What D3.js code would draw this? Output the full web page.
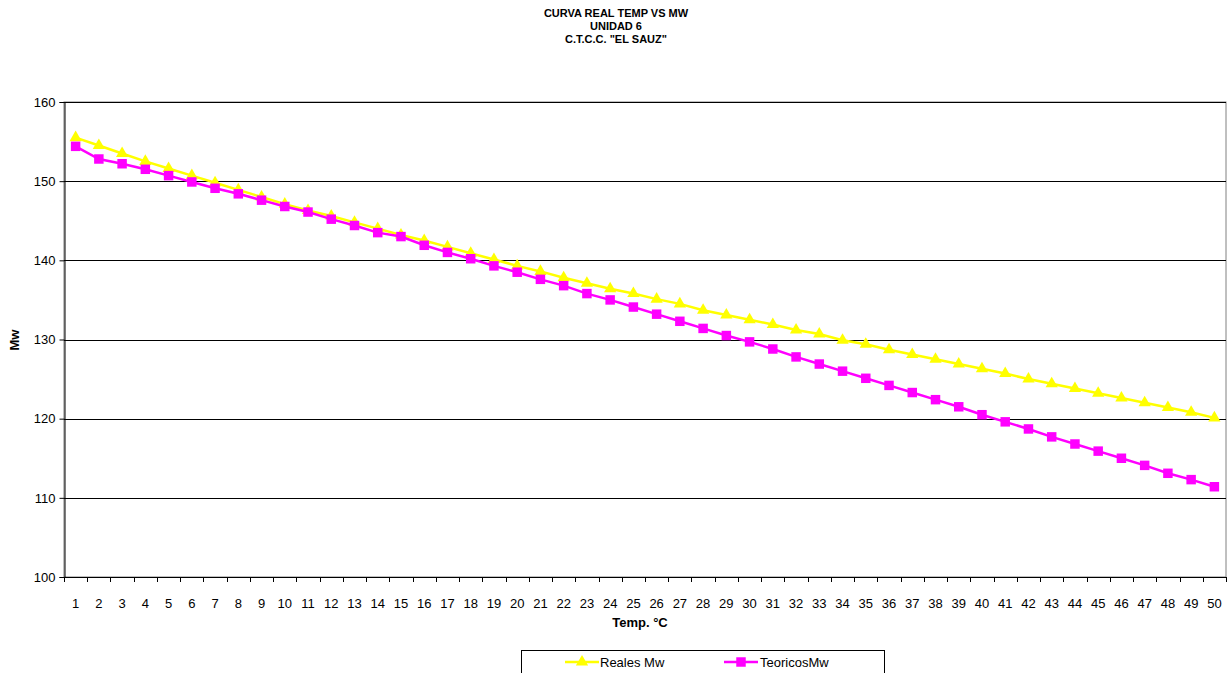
<!DOCTYPE html>
<html>
<head>
<meta charset="utf-8">
<script src="https://cdn.jsdelivr.net/npm/d3@7"></script>
<style>
  body { margin: 0; background: #fff; }
  svg { display: block; font-family: "Liberation Sans", Arial, sans-serif; }
</style>
</head>
<body>
<div id="chart"></div>
<script>
// categories (Temp. °C)
var temps = d3.range(1, 51);

// Reales Mw
var reales = [
  155.5, 154.5, 153.5, 152.5, 151.6, 150.7, 149.8, 148.9, 148.0, 147.1,
  146.3, 145.6, 144.8, 144.0, 143.2, 142.5, 141.7, 140.9, 140.1, 139.3,
  138.6, 137.8, 137.1, 136.4, 135.8, 135.1, 134.5, 133.7, 133.1, 132.5,
  131.9, 131.2, 130.7, 129.9, 129.4, 128.7, 128.1, 127.5, 126.9, 126.3,
  125.7, 125.0, 124.4, 123.8, 123.2, 122.6, 122.0, 121.4, 120.8, 120.1
];

// TeoricosMw
var teoricos = [
  154.4, 152.8, 152.2, 151.5, 150.7, 149.9, 149.1, 148.4, 147.6, 146.8,
  146.1, 145.2, 144.4, 143.5, 143.0, 141.9, 141.0, 140.2, 139.3, 138.5,
  137.6, 136.8, 135.8, 135.0, 134.1, 133.2, 132.3, 131.4, 130.5, 129.7,
  128.8, 127.8, 126.9, 126.0, 125.1, 124.2, 123.3, 122.4, 121.5, 120.5,
  119.6, 118.7, 117.7, 116.8, 115.9, 115.0, 114.1, 113.1, 112.3, 111.4
];

var yTicks = [100, 110, 120, 130, 140, 150, 160];
var titleLines = ["CURVA REAL TEMP  VS MW", "UNIDAD 6", "C.T.C.C. \"EL SAUZ\""];

var W = 1231, H = 673;
var plot = { left: 64, right: 1226, top: 102, bottom: 577 };

var svg = d3.select("#chart").append("svg")
    .attr("width", W)
    .attr("height", H);

var x = d3.scaleBand()
    .domain(temps)
    .range([plot.left, plot.right])
    .padding(0);

var y = d3.scaleLinear()
    .domain([100, 160])
    .range([plot.bottom, plot.top]);

// title
svg.selectAll("text.title")
    .data(titleLines)
    .enter()
    .append("text")
    .attr("class", "title")
    .attr("x", 616)
    .attr("y", function (d, i) { return 17 + i * 13; })
    .attr("text-anchor", "middle")
    .style("font-size", "11px")
    .style("font-weight", "bold")
    .text(function (d) { return d; });

// plot area border (grey)
svg.append("rect")
    .attr("x", plot.left)
    .attr("y", plot.top)
    .attr("width", plot.right - plot.left)
    .attr("height", plot.bottom - plot.top)
    .attr("fill", "none")
    .attr("stroke", "#808080")
    .attr("stroke-width", 1);

// gridlines
svg.append("g")
    .selectAll("line")
    .data(yTicks.filter(function (d) { return d > 100; }))
    .enter()
    .append("line")
    .attr("x1", plot.left)
    .attr("x2", plot.right)
    .attr("y1", function (d) { return Math.round(y(d)) + 0.5; })
    .attr("y2", function (d) { return Math.round(y(d)) + 0.5; })
    .attr("stroke", "#000")
    .attr("stroke-width", 1);

// y axis
var yAxis = svg.append("g")
    .attr("transform", "translate(" + (plot.left + 0.5) + ",0)")
    .call(d3.axisLeft(y).tickValues(yTicks).tickSize(5).tickPadding(4));
yAxis.select(".domain").attr("stroke", "#000");
yAxis.selectAll("text")
    .style("font-size", "13px")
    .style("font-family", "Liberation Sans, Arial, sans-serif")
    .attr("fill", "#000");

// x axis: ticks between categories
var xAxis = svg.append("g")
    .attr("transform", "translate(0," + (plot.bottom + 0.5) + ")")
    .call(d3.axisBottom(x).tickSize(0).tickPadding(21));
xAxis.select(".domain").remove();
xAxis.selectAll("text")
    .style("font-size", "13px")
    .style("font-family", "Liberation Sans, Arial, sans-serif")
    .attr("fill", "#000");

svg.append("line")
    .attr("x1", plot.left)
    .attr("x2", plot.right)
    .attr("y1", plot.bottom + 0.5)
    .attr("y2", plot.bottom + 0.5)
    .attr("stroke", "#000");

svg.append("g")
    .selectAll("line")
    .data(d3.range(temps.length + 1))
    .enter()
    .append("line")
    .attr("x1", function (i) { return Math.round(plot.left + i * x.bandwidth()) + 0.5; })
    .attr("x2", function (i) { return Math.round(plot.left + i * x.bandwidth()) + 0.5; })
    .attr("y1", plot.bottom)
    .attr("y2", plot.bottom + 5)
    .attr("stroke", "#000");

// axis titles
svg.append("text")
    .attr("x", 640)
    .attr("y", 627)
    .attr("text-anchor", "middle")
    .style("font-size", "13px")
    .style("font-weight", "bold")
    .text("Temp. °C");

svg.append("text")
    .attr("transform", "translate(19,340) rotate(-90)")
    .attr("text-anchor", "middle")
    .style("font-size", "13px")
    .style("font-weight", "bold")
    .text("Mw");

// series
var cx = function (d, i) { return x(temps[i]) + x.bandwidth() / 2; };
var line = d3.line()
    .x(cx)
    .y(function (d) { return y(d); });

var tri = d3.symbol().type(d3.symbolTriangle).size(65);
var sq = d3.symbol().type(d3.symbolSquare).size(90);

svg.append("path")
    .datum(reales)
    .attr("d", line)
    .attr("fill", "none")
    .attr("stroke", "#ffff00")
    .attr("stroke-width", 2.5);

svg.append("g")
    .selectAll("path")
    .data(reales)
    .enter()
    .append("path")
    .attr("d", tri)
    .attr("transform", function (d, i) { return "translate(" + cx(d, i) + "," + y(d) + ")"; })
    .attr("fill", "#ffff00");

svg.append("path")
    .datum(teoricos)
    .attr("d", line)
    .attr("fill", "none")
    .attr("stroke", "#ff00ff")
    .attr("stroke-width", 2.5);

svg.append("g")
    .selectAll("path")
    .data(teoricos)
    .enter()
    .append("path")
    .attr("d", sq)
    .attr("transform", function (d, i) { return "translate(" + cx(d, i) + "," + y(d) + ")"; })
    .attr("fill", "#ff00ff");

// legend
var legend = svg.append("g");
legend.append("rect")
    .attr("x", 521.5)
    .attr("y", 650.5)
    .attr("width", 363)
    .attr("height", 30)
    .attr("fill", "#fff")
    .attr("stroke", "#000");

var legendItems = [
  { name: "Reales Mw", color: "#ffff00", sym: tri, x0: 565, tx: 600 },
  { name: "TeoricosMw", color: "#ff00ff", sym: sq, x0: 724, tx: 760 }
];

legendItems.forEach(function (it) {
  legend.append("line")
      .attr("x1", it.x0)
      .attr("x2", it.x0 + 34)
      .attr("y1", 662)
      .attr("y2", 662)
      .attr("stroke", it.color)
      .attr("stroke-width", 2.5);
  legend.append("path")
      .attr("d", it.sym)
      .attr("transform", "translate(" + (it.x0 + 17) + ",662)")
      .attr("fill", it.color);
  legend.append("text")
      .attr("x", it.tx)
      .attr("y", 667)
      .style("font-size", "13px")
      .text(it.name);
});
</script>
</body>
</html>
